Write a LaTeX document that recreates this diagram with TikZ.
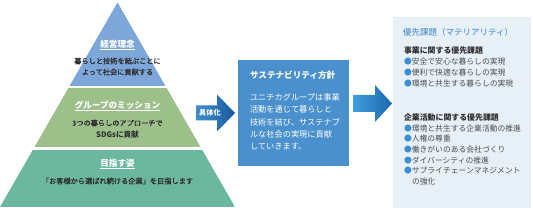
\documentclass[tikz,border=0pt]{standalone}
\usepackage{fontspec}
\setmainfont{Noto Sans CJK JP}
\newfontfamily\medjp[FakeBold=0.8]{Noto Sans CJK JP}
\definecolor{pyblue}{HTML}{7DA7D9}
\definecolor{pygreen}{HTML}{9DC08B}
\definecolor{pyteal}{HTML}{6BB89F}
\definecolor{midblue}{HTML}{4A90CD}
\definecolor{panelbg}{HTML}{E7EFF7}
\definecolor{titleblue}{HTML}{3D86C6}
\definecolor{bulblue}{HTML}{3A8FD3}
\definecolor{darktext}{HTML}{2E2E2E}
\definecolor{saleft}{HTML}{3E8FD0}
\definecolor{saright}{HTML}{1A5A9C}
\definecolor{baleft}{HTML}{3F9EDC}
\definecolor{baright}{HTML}{1C68AC}
\newcommand{\bul}{\textcolor{bulblue}{●}}
\begin{document}
\begin{tikzpicture}[x=1pt,y=-1pt,
  every node/.style={inner sep=0pt, outer sep=0pt},
  pyhead/.style={text=white, font=\fontsize{8.6}{10}\selectfont\bfseries},
  pybody/.style={text=darktext, font=\medjp\fontsize{7.2}{9}\selectfont},
  midtitle/.style={anchor=west, text=white, font=\fontsize{8.6}{10}\selectfont\bfseries},
  midbody/.style={anchor=west, text=white, font=\fontsize{8.2}{10}\selectfont},
  pantitle/.style={anchor=west, text=titleblue, font=\fontsize{8.5}{10}\selectfont},
  panhead/.style={anchor=west, text=darktext, font=\fontsize{7.9}{10}\selectfont\bfseries},
  panitem/.style={anchor=west, text=darktext!85!white, font=\fontsize{7.8}{10}\selectfont},
  arrowtext/.style={text=white, font=\fontsize{7.2}{9}\selectfont\bfseries}
]
\useasboundingbox (0,0) rectangle (533,211);

% pyramid
\begin{scope}
  \clip (117.5,2.5) -- (235,207) -- (0,207) -- cycle;
  \fill[pyblue] (0,0) rectangle (235,86);
  \fill[pygreen] (0,88.5) rectangle (235,147);
  \fill[pyteal] (0,150) rectangle (235,207);
\end{scope}

\node[pyhead] (h1) at (117.5,45) {\underline{経営理念}};
\node[pybody] (b1a) at (117.5,61) {暮らしと技術を結ぶことに};
\node[pybody] (b1b) at (117.5,72) {よって社会に貢献する};
\node[pyhead] (h2) at (117.5,106) {\underline{グループのミッション}};
\node[pybody] (b2a) at (117.5,123) {3つの暮らしのアプローチで};
\node[pybody, font=\fontsize{7.6}{9}\selectfont\bfseries] (b2b) at (117.5,135) {SDGsに貢献};
\node[pyhead] (h3) at (117.5,164) {\underline{目指す姿}};
\node[pybody] (b3) at (117.5,181) {「お客様から選ばれ続ける企業」を目指します};

% small arrow
\shade[left color=saleft, right color=saright]
  (196,105.5) -- (217,105.5) -- (217,94.5) -- (235,113) -- (217,131.5) -- (217,120.5) -- (196,120.5) -- cycle;
\node[arrowtext] (gutai) at (210,113) {具体化};

% middle box
\node[fill=midblue, anchor=north west, minimum width=111pt, minimum height=106pt] (mid) at (238,60) {};
\node[midtitle] (midt) at (250,75) {サステナビリティ方針};
\node[midbody] (m1) at (250,97.3) {ユニチカグループは事業};
\node[midbody] (m2) at (250,109.7) {活動を通じて暮らしと};
\node[midbody] (m3) at (250,122.1) {技術を結び、サステナブ};
\node[midbody] (m4) at (250,134.5) {ルな社会の実現に貢献};
\node[midbody] (m5) at (250,146.9) {していきます。};

% big arrow
\shade[left color=baleft, right color=baright]
  (353,95) -- (375,95) -- (375,85) -- (392,103.5) -- (375,122) -- (375,112) -- (353,112) -- cycle;

% right panel
\node[fill=panelbg, anchor=north west, minimum width=138pt, minimum height=191pt] (pan) at (393,17) {};
\node[pantitle] (pt) at (403,32.5) {優先課題（マテリアリティ）};
\node[panhead] (ph1) at (404,51) {事業に関する優先課題};
\node[panitem] (p1) at (404,61.7) {\bul 安全で安心な暮らしの実現};
\node[panitem] (p2) at (404,72.4) {\bul 便利で快適な暮らしの実現};
\node[panitem] (p3) at (404,83.1) {\bul 環境と共生する暮らしの実現};
\node[panhead] (ph2) at (404,117.5) {企業活動に関する優先課題};
\node[panitem] (q1) at (404,128.2) {\bul 環境と共生する企業活動の推進};
\node[panitem] (q2) at (404,138.9) {\bul 人権の尊重};
\node[panitem] (q3) at (404,149.6) {\bul 働きがいのある会社づくり};
\node[panitem] (q4) at (404,160.3) {\bul ダイバーシティの推進};
\node[panitem] (q5) at (404,171) {\bul サプライチェーンマネジメント};
\node[panitem] (q6) at (412,181.7) {の強化};
\end{tikzpicture}
\end{document}
